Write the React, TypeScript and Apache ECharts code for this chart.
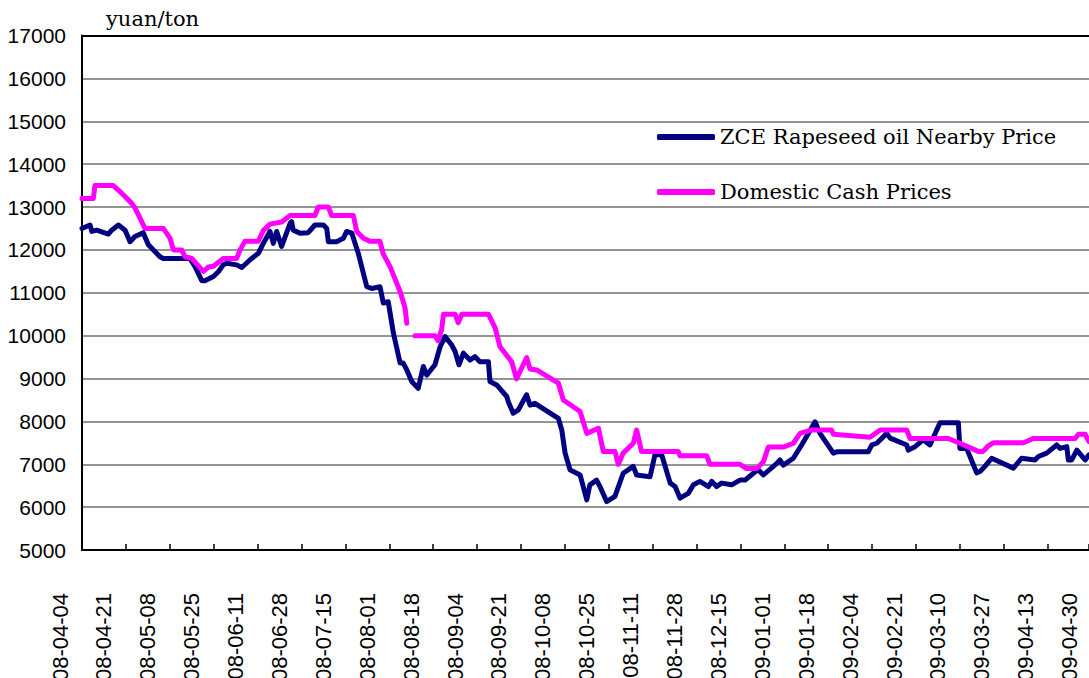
import React, { useEffect, useRef } from "react";
import * as echarts from "echarts";

// Days counted from 2008-04-04
const zceDays = [0,3.1,3.8,5.7,10.2,11.5,14.1,16.7,18.6,20.5,23.7,25.7,30.2,31.5,41.8,43.8,46.4,47.6,50.9,52.8,54.7,56.0,59.9,61.9,65.1,68.3,70.2,72.8,74.1,75.4,77.3,80.6,81.2,81.8,84.4,87.6,90.2,93.5,94.8,95.4,98.6,101.2,102.5,104.5,107.0,110.3,112.2,115.4,116.7,118.6,120.6,123.2,124.4,125.8,127.7,130.2,132.2,133.5,136.7,138.7,140.6,143.2,144.5,146.0,147.7,150.3,152.2,154.1,157.4,158.0,160.6,164.5,165.1,167.0,169.0,172.2,173.5,175.4,184.5,185.8,187.1,189.0,192.9,195.5,196.7,199.3,200.6,203.2,206.4,209.6,213.5,214.8,220.0,221.9,224.5,227.8,229.7,231.6,234.8,236.8,239.3,242.6,243.9,245.8,247.7,251.6,254.8,256.8,260.0,261.9,263.9,269.1,270.3,271.6,275.5,278.7,281.3,283.9,285.8,291.0,292.3,304.5,305.9,307.8,311.7,313.0,319.4,320.0,322.6,325.8,328.4,332.3,339.4,340.0,342.6,346.5,347.8,349.7,352.3,360.7,363.9,369.1,370.4,373.6,377.5,378.8,381.4,382.0,383.3,385.3,388.5,390];
const zceValues = [12500,12580,12430,12460,12370,12460,12580,12460,12190,12310,12400,12120,11840,11800,11800,11610,11280,11280,11380,11490,11650,11690,11650,11590,11770,11920,12150,12430,12150,12430,12080,12620,12660,12460,12390,12400,12580,12580,12500,12190,12190,12270,12430,12390,11920,11140,11100,11140,10760,10790,10060,9360,9360,9200,8930,8770,9280,9080,9320,9740,9980,9780,9630,9320,9590,9430,9510,9390,9390,8930,8850,8580,8460,8190,8270,8620,8380,8420,8070,7800,7260,6870,6750,6170,6520,6630,6480,6130,6250,6790,6950,6750,6710,7220,7220,6560,6480,6210,6320,6520,6600,6480,6600,6480,6560,6520,6630,6630,6790,6870,6750,7020,7100,6980,7140,7450,7720,7990,7720,7260,7290,7290,7450,7490,7720,7610,7450,7330,7410,7570,7450,7970,7970,7370,7370,6800,6830,6950,7140,6910,7140,7100,7180,7260,7450,7370,7410,7100,7100,7330,7100,7220];

const cashDays = [0,4.4,5.0,12.1,14.7,19.2,20.5,24.4,31.5,34.1,35.4,38.6,39.9,42.5,47.0,48.9,50.9,54.7,59.9,61.2,63.1,68.3,70.2,72.8,77.3,80.6,90.2,91.5,95.4,96.7,105.1,106.4,109.0,111.5,115.4,116.7,119.3,123.2,125.1,125.8,127.5,129.0,136.7,137.9,139.3,140.0,144.5,145.7,147.1,157.4,160.0,161.9,166.4,168.3,172.2,173.5,176.1,184.5,186.4,192.9,195.5,200.0,201.9,206.4,207.7,209.6,213.5,214.8,216.7,230.9,231.6,241.9,243.2,254.8,257.4,261.3,263.9,265.8,271.6,275.5,278.1,282.6,290.3,291.0,305.2,309.1,319.4,320.7,335.5,340.0,347.1,349.0,351.0,352.9,364.6,368.4,384.6,385.9,388.5,390];
const cashValues = [13200,13200,13500,13500,13360,13090,12980,12500,12500,12270,12000,12000,11840,11800,11500,11600,11620,11800,11800,12000,12200,12200,12450,12600,12650,12800,12800,13000,13000,12800,12800,12430,12270,12200,12200,11900,11610,11030,10650,10290,null,10000,10000,9880,10150,10500,10500,10300,10500,10500,10180,9740,9390,8990,9490,9220,9200,8890,8500,8230,7720,7840,7300,7300,7000,7260,7490,7800,7300,7300,7200,7200,7000,7000,6900,6900,7060,7400,7400,7490,7720,7800,7800,7700,7630,7800,7800,7600,7600,7490,7300,7300,7430,7500,7500,7600,7600,7700,7700,7530];

const seriesNames = ["ZCE Rapeseed oil Nearby Price", "Domestic Cash Prices"];
const yTicks = { min: 5000, max: 17000, step: 1000 };
const xStep = 17; // days between date labels
const xEnd = 390; // axis end (days)
const labelEnd = 391; // 2009-04-30
const unitText = "yuan/ton";

const START = Date.UTC(2008, 3, 4);
function fmtDay(d: number): string {
  const dt = new Date(START + Math.round(d) * 86400000);
  const m = String(dt.getUTCMonth() + 1).padStart(2, "0");
  const dd = String(dt.getUTCDate()).padStart(2, "0");
  return `${dt.getUTCFullYear()}-${m}-${dd}`;
}

const W = 1089;
const H = 678;
const LEFT = 82;
const TOP = 35.5;
const BOTTOM = 128;
const LABEL_SHIFT = 22;

export default function App() {
  const ref = useRef<HTMLDivElement>(null);
  useEffect(() => {
    if (!ref.current) return;
    const chart = echarts.init(ref.current, undefined, { renderer: "svg" });
    const pxPerDay = (W - LEFT) / xEnd;
    const g1Left = LEFT - LABEL_SHIFT;
    const g1Right = W - g1Left - labelEnd * pxPerDay;
    const sans = "'Liberation Sans', Arial, sans-serif";
    const serif = "'DejaVu Serif', serif";
    chart.setOption({
      animation: false,
      backgroundColor: "#fff",
      title: {
        text: unitText,
        left: 101,
        top: 3,
        textStyle: { fontFamily: serif, fontSize: 21, fontWeight: "normal", color: "#000" },
      },
      legend: {
        orient: "vertical",
        left: 652,
        top: 120,
        itemWidth: 58,
        itemHeight: 6,
        itemGap: 31,
        icon: "roundRect",
        data: seriesNames,
        textStyle: { fontFamily: serif, fontSize: 21, color: "#000", lineHeight: 24 },
      },
      grid: [
        { left: LEFT, right: 0, top: TOP, bottom: BOTTOM, outerBoundsMode: "none", containLabel: false },
        { left: g1Left, right: g1Right, top: TOP, bottom: BOTTOM, outerBoundsMode: "none", containLabel: false },
      ],
      xAxis: [
        {
          type: "value",
          gridIndex: 0,
          min: 0,
          max: xEnd,
          interval: xStep,
          position: "bottom",
          axisLine: { show: true, lineStyle: { color: "#000", width: 2 } },
          axisTick: { show: true, inside: true, length: 6, lineStyle: { color: "#000", width: 1.5 } },
          axisLabel: { show: false },
          splitLine: { show: false },
        },
        {
          type: "value",
          gridIndex: 0,
          min: 0,
          max: xEnd,
          interval: xStep,
          position: "top",
          axisLine: { show: true, lineStyle: { color: "#000", width: 2 } },
          axisTick: { show: false },
          axisLabel: { show: false },
          splitLine: { show: false },
        },
        {
          type: "value",
          gridIndex: 1,
          min: 0,
          max: labelEnd,
          interval: xStep,
          position: "bottom",
          axisLine: { show: false },
          axisTick: { show: false },
          splitLine: { show: false },
          axisLabel: {
            show: true,
            rotate: 90,
            margin: 43,
            fontFamily: sans,
            fontSize: 22,
            color: "#000",
            showMinLabel: true,
            showMaxLabel: true,
            formatter: (v: number) => fmtDay(v),
          },
        },
      ],
      yAxis: [
        {
          type: "value",
          gridIndex: 0,
          min: yTicks.min,
          max: yTicks.max,
          interval: yTicks.step,
          axisLine: { show: true, lineStyle: { color: "#000", width: 2 } },
          axisTick: { show: false },
          axisLabel: {
            margin: 16,
            fontFamily: sans,
            fontSize: 21,
            color: "#000",
            formatter: (v: number) => String(v),
          },
          splitLine: { show: true, lineStyle: { color: "#707070", width: 1.5 } },
        },
        {
          type: "value",
          gridIndex: 1,
          min: yTicks.min,
          max: yTicks.max,
          show: false,
        },
      ],
      series: [
        {
          name: seriesNames[0],
          type: "line",
          xAxisIndex: 0,
          yAxisIndex: 0,
          data: zceDays.map((d, i) => [d, zceValues[i]]),
          showSymbol: false,
          symbol: "none",
          lineStyle: { color: "#000080", width: 5, cap: "round", join: "round" },
          itemStyle: { color: "#000080" },
          z: 3,
        },
        {
          name: seriesNames[1],
          type: "line",
          xAxisIndex: 0,
          yAxisIndex: 0,
          data: cashDays.map((d, i) => [d, cashValues[i]]),
          connectNulls: false,
          showSymbol: false,
          symbol: "none",
          lineStyle: { color: "#FF00FF", width: 5, cap: "round", join: "round" },
          itemStyle: { color: "#FF00FF" },
          z: 4,
        },
      ],
    });
    return () => chart.dispose();
  }, []);
  return (
    <div
      ref={ref}
      style={{ position: "absolute", left: 0, top: 0, width: W, height: H, background: "#fff" }}
    />
  );
}
